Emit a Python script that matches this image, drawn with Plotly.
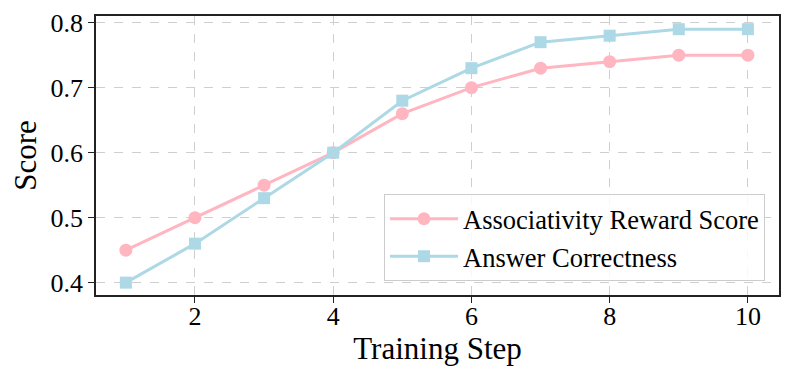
import plotly.graph_objects as go

steps = [1, 2, 3, 4, 5, 6, 7, 8, 9, 10]
assoc_score = [0.45, 0.50, 0.55, 0.60, 0.66, 0.70, 0.73, 0.74, 0.75, 0.75]
answer_correct = [0.40, 0.46, 0.53, 0.60, 0.68, 0.73, 0.77, 0.78, 0.79, 0.79]
x_ticks = [2, 4, 6, 8, 10]
y_ticks = [0.4, 0.5, 0.6, 0.7, 0.8]
y_tick_text = ["0.4", "0.5", "0.6", "0.7", "0.8"]

font_family = "Liberation Serif, Times New Roman, serif"

fig = go.Figure()
fig.add_trace(go.Scatter(
    x=steps, y=assoc_score, mode="lines+markers", name="Associativity Reward Score",
    line=dict(color="#FFB6C1", width=3),
    marker=dict(symbol="circle", size=13, color="#FFB6C1"),
))
fig.add_trace(go.Scatter(
    x=steps, y=answer_correct, mode="lines+markers", name="Answer Correctness",
    line=dict(color="#ADD8E6", width=3),
    marker=dict(symbol="square", size=12, color="#ADD8E6"),
))

grid = dict(showgrid=True, gridcolor="#cfcfcf", griddash="dash", gridwidth=1)
# page body has an 8px margin, so margins are compensated
fig.update_layout(
    width=793, height=382,
    margin=dict(l=88, r=22, t=8, b=95, autoexpand=False),
    plot_bgcolor="white", paper_bgcolor="white",
    font=dict(family=font_family, size=26, color="black"),
    xaxis=dict(
        range=[0.568, 10.45], tickvals=x_ticks, ticks="outside", ticklen=6, tickwidth=1.2,
        tickcolor="#222", tickfont=dict(size=26), ticklabelstandoff=-9,
        showline=True, linecolor="#222", linewidth=1.5, mirror=True,
        title=dict(text="Training Step", font=dict(size=31), standoff=7),
        zeroline=False, automargin=False, **grid,
    ),
    yaxis=dict(
        range=[0.381, 0.8103], tickvals=y_ticks, ticktext=y_tick_text,
        ticks="outside", ticklen=6, tickwidth=1.2, tickcolor="#222", tickfont=dict(size=26),
        showline=True, linecolor="#222", linewidth=1.5, mirror=True,
        title=dict(text="Score", font=dict(size=31), standoff=8),
        zeroline=False, automargin=False, **grid,
    ),
    legend=dict(
        x=0.9795, y=0.05, xanchor="right", yanchor="bottom",
        bgcolor="rgba(255,255,255,0.85)", bordercolor="#cccccc", borderwidth=1,
        font=dict(size=26.5), itemwidth=68,
    ),
    showlegend=True,
)

fig.write_html("out.html")
